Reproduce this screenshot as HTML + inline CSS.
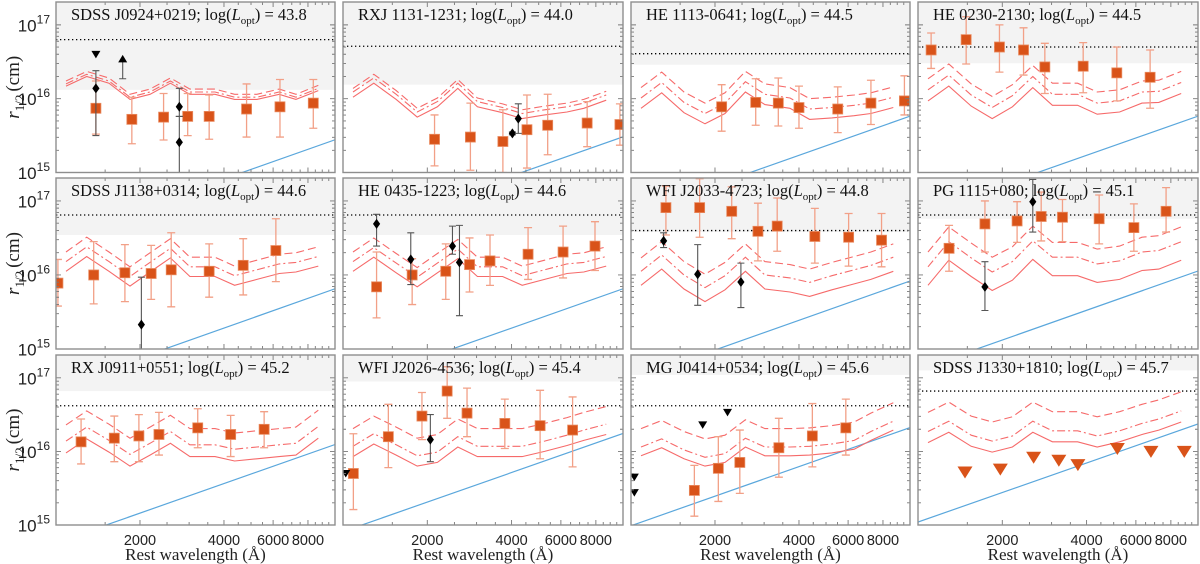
<!DOCTYPE html>
<html><head><meta charset="utf-8">
<style>
html,body{margin:0;padding:0;background:#fff;}
svg{display:block;font-family:"Liberation Serif",serif;}
</style></head>
<body>
<svg id="fig" xmlns="http://www.w3.org/2000/svg" width="1200" height="564" viewBox="0 0 1200 564"></svg>
<script>
// ---- data ----
const panelNames = ["SDSS J0924+0219","RXJ 1131-1231","HE 1113-0641","HE 0230-2130","SDSS J1138+0314","HE 0435-1223","WFI J2033-4723","PG 1115+080","RX J0911+0551","WFI J2026-4536","MG J0414+0534","SDSS J1330+1810"];
const panelLopt = ["43.8","44.0","44.5","44.5","44.6","44.6","44.8","45.1","45.2","45.4","45.6","45.7"];
const modelLam = [1086,1288,1549,1841,2173,2570,3020,3715,4365,5248,6310,7244,8710];
const solidR = [
 [16.17,16.30,16.21,15.99,16.06,16.21,16.06,16.06,15.99,15.99,16.06,15.99,16.11],
 [16.02,16.21,15.99,15.75,15.89,16.14,15.89,15.81,15.73,15.78,15.82,15.87,15.98],
 [15.87,16.08,15.81,15.66,15.80,16.09,15.92,15.87,15.72,15.74,15.77,15.80,15.88],
 [15.97,16.17,15.90,15.73,15.89,16.15,15.91,15.91,15.79,15.82,15.94,15.95,16.07],
 [16.05,16.25,16.05,15.85,16.04,16.23,15.98,15.98,15.86,15.94,16.02,16.04,16.12],
 [16.05,16.24,16.03,15.84,16.03,16.22,15.98,15.98,15.86,15.94,16.02,16.04,16.12],
 [15.86,16.08,15.81,15.64,15.80,16.05,15.81,15.77,15.71,15.80,15.88,15.94,16.05],
 [15.86,16.20,15.98,15.79,15.93,16.21,15.99,15.99,15.90,15.94,16.06,16.08,16.20],
 [15.98,16.17,15.99,15.80,15.95,16.11,15.93,15.93,15.87,15.90,15.93,15.95,16.18],
 [15.93,16.10,15.95,15.80,15.85,16.06,15.93,15.93,15.93,16.00,16.08,16.15,16.23],
 [15.94,16.05,15.90,15.80,15.85,16.06,15.94,15.94,15.95,15.98,16.03,16.15,16.29],
 [16.12,16.26,16.07,15.99,16.06,16.26,16.13,16.13,16.06,16.13,16.23,16.29,16.40]];
const dashDotOffset = [0.03,0.07,0.14,0.15,0.13,0.13,0.19,0.25,0.16,0.14,0.12,0.15];
const dashedOffset = [0.07,0.12,0.28,0.30,0.26,0.26,0.37,0.45,0.38,0.38,0.37,0.41];
const sqLam = [
 [1390,1870,2430,2965,3540,4820,6350,8360],
 [2123,2851,3724,4539,5383,7447,9750],
 [2113,2799,3373,4000,5508,7244,9550],
 [1114,1486,1954,2382,2838,3890,5129,6745],
 [1016,1365,1766,2193,2588,3540,4688,6138],
 [1318,1766,2328,2831,3350,4581,6109,7943],
 [1334,1762,2296,2851,3342,4560,6026,7907],
 [1291,1734,2259,2754,3281,4436,5902,7691],
 [1230,1618,1982,2339,3221,4227,5572],
 [1089,1452,1914,2355,2773,3784,5058,6607],
 [1687,2056,2455,3388,4467,5888],
 []];
const sqR = [
 [15.87,15.72,15.75,15.76,15.76,15.86,15.89,15.94],
 [15.45,15.48,15.42,15.58,15.64,15.67,15.65],
 [15.89,15.95,15.94,15.88,15.86,15.94,15.97],
 [16.66,16.80,16.70,16.66,16.43,16.44,16.35,16.29],
 [15.89,16.00,16.03,16.02,16.07,16.05,16.13,16.33],
 [15.84,16.00,16.05,16.14,16.19,16.28,16.31,16.39],
 [16.91,16.91,16.86,16.59,16.66,16.52,16.51,16.47],
 [16.36,16.69,16.73,16.79,16.78,16.76,16.64,16.86],
 [16.13,16.18,16.21,16.23,16.32,16.23,16.30],
 [15.70,16.20,16.48,16.82,16.52,16.38,16.35,16.29],
 [15.47,15.77,15.85,16.05,16.21,16.32],
 []];
const sqHi = [
 [16.24,16.02,16.07,16.07,16.05,16.20,16.26,16.26],
 [15.78,15.94,15.85,16.05,16.06,15.96,15.93],
 [16.19,16.27,16.28,16.17,16.16,16.25,16.31],
 [16.89,17.11,17.00,16.96,16.75,16.76,16.70,16.66],
 [16.21,16.45,16.41,16.40,16.57,16.42,16.49,16.76],
 [16.31,16.22,16.42,16.50,16.54,16.64,16.66,16.72],
 [17.20,17.30,17.19,16.97,17.04,16.90,16.83,16.83],
 [16.67,17.00,16.99,17.12,17.02,17.08,16.96,17.18],
 [16.44,16.48,16.50,16.53,16.58,16.49,16.54],
 [16.24,16.64,16.80,17.15,16.86,16.71,16.83,16.74],
 [15.81,16.20,16.29,16.45,16.65,16.71],
 []];
const sqLo = [
 [15.52,15.39,15.44,15.50,15.45,15.48,15.48,15.60],
 [15.09,15.03,15.00,15.06,15.24,15.35,15.37],
 [15.56,15.64,15.63,15.60,15.54,15.65,15.78],
 [16.41,16.47,16.36,16.32,16.07,16.08,15.97,15.87],
 [15.58,15.61,15.64,15.67,15.57,15.70,15.73,15.91],
 [15.42,15.60,15.67,15.77,15.86,15.94,15.96,16.06],
 [16.54,16.51,16.49,16.19,16.32,16.16,16.12,16.11],
 [16.05,16.31,16.44,16.46,16.45,16.42,16.32,16.58],
 [15.83,15.86,15.86,15.95,16.05,15.93,16.05],
 [15.21,15.78,16.16,16.45,16.20,16.04,15.90,15.79],
 [15.12,15.32,15.43,15.65,15.79,15.95],
 []];
const bkLam = [[1390,2767,2767],[4027,4227],[],[],[2023],[1318,1746,2460,2606],[1309,1734,2477],[1734,2570],[],[2051],[],[]];
const bkR = [[16.14,15.89,15.41],[15.53,15.73],[],[],[15.33],[16.69,16.21,16.39,16.17],[16.46,16.01,15.905],[15.84,16.99],[],[16.16],[],[]];
const bkHi = [[16.38,16.14,15.76],[15.55,15.93],[],[],[15.97],[16.82,16.57,16.66,16.67],[16.57,16.41,16.16],[16.18,17.29],[],[16.50],[],[]];
const bkLo = [[15.50,15.76,14.90],[15.51,15.53],[],[],[14.80],[16.39,15.87,16.28,15.45],[16.37,15.59,15.56],[15.52,16.58],[],[15.86],[],[]];
const triDownLam = [[1390],[],[],[],[],[],[],[],[],[1023],[1028,1028,1807,2218],[]];
const triDownR = [[16.60],[],[],[],[],[],[],[],[],[15.70],[15.65,15.44,16.36,16.53],[]];
const triUpLam = [[1734],[],[],[],[],[],[],[],[],[],[],[]];
const triUpR = [[16.54],[],[],[],[],[],[],[],[],[],[],[]];
const triUpLo = [[16.27],[],[],[],[],[],[],[],[],[],[],[]];
const limitLam = [1472,1968,2588,3184,3724,5152,6792,8933];
const limitR = [15.72,15.76,15.92,15.88,15.82,16.04,16.00,16.00];
const blueAt1000 = [14.11,14.15,14.43,14.43,14.48,14.48,14.585,14.72,14.76,14.91,14.99,15.04];
const dottedR = [16.80,16.71,16.61,16.70,16.81,16.81,16.60,16.81,16.62,16.62,16.62,16.82];
const greyBottom = [16.12,16.19,16.46,16.48,16.54,16.54,16.58,16.76,16.82,16.95,17.04,17.10];
const xTickLabels = [2000,4000,6000,8000];
const yTickLabels = [15,16,17];

// ---- geometry ----
const LEFT=[56,343,631,918], WID=[279,280,279,280];
const TOP=[2,178,355], BOT=[172.5,349,525];
const NS="http://www.w3.org/2000/svg";
const svg=document.getElementById('fig');
function X(p,lam){return LEFT[p%4]+(Math.log10(lam)-3)*WID[p%4];}
function Y(p,v){const r=Math.floor(p/4);return BOT[r]-(v-15)*(BOT[r]-TOP[r])/2.31;}
function mk(parent,tag,attrs){const e=document.createElementNS(NS,tag);for(const k in attrs)e.setAttribute(k,attrs[k]);parent.appendChild(e);return e;}
const defs=mk(svg,'defs',{});

for(let p=0;p<12;p++){
  const col=p%4,row=Math.floor(p/4);
  const l=LEFT[col],w=WID[col],t=TOP[row],b=BOT[row];
  const g=mk(svg,'g',{});
  
  
  const cp=mk(defs,'clipPath',{id:'cp'+p});
  mk(cp,'rect',{x:l,y:t,width:w,height:b-t});
  const pl=mk(g,'g',{'clip-path':'url(#cp'+p+')'});
  const band=mk(pl,'rect',{x:l,y:t,width:w,height:Math.max(0,Y(p,greyBottom[p])-t),fill:'#f3f3f3'});
  
  
  const dl=mk(pl,'line',{x1:l,x2:l+w,y1:Y(p,dottedR[p]),y2:Y(p,dottedR[p]),stroke:'#000','stroke-width':1.3,'stroke-dasharray':'1.3 2.7'});
  
  
  const bl=mk(pl,'line',{x1:X(p,1000),y1:Y(p,blueAt1000[p]),x2:X(p,10000),y2:Y(p,blueAt1000[p]+4/3),stroke:'#5aa7dc','stroke-width':1.2});
  
  
  const styles=[[0,'none','model-solid'],[dashDotOffset[p],'8 3 2 3','model-dashdot'],[dashedOffset[p],'8 4','model-dashed']];
  styles.forEach(s=>{
    const pts=modelLam.map((lam,i)=>X(p,lam).toFixed(1)+','+Y(p,solidR[p][i]+s[0]).toFixed(1)).join(' ');
    const pl2=mk(pl,'polyline',{points:pts,fill:'none',stroke:'#f66a6a','stroke-width':1.1,'stroke-dasharray':s[1]});
    
    
  });
  sqLam[p].forEach((lam,i)=>{
    const x=X(p,lam),y1=Y(p,sqHi[p][i]),y2=Y(p,sqLo[p][i]);
    const eb=mk(pl,'path',{d:`M${x},${y1}V${y2}M${x-4},${y1}H${x+4}M${x-4},${y2}H${x+4}`,stroke:'#f2a087','stroke-width':1.3,fill:'none'});
    
    
  });
  sqLam[p].forEach((lam,i)=>{
    const x=X(p,lam),y=Y(p,sqR[p][i]);
    const sq=mk(pl,'rect',{x:x-5,y:y-5,width:10,height:10,fill:'#d95319',stroke:'#e98a5f','stroke-width':0.8});
    
    
  });
  bkLam[p].forEach((lam,i)=>{
    const x=X(p,lam),y=Y(p,bkR[p][i]),y1=Y(p,bkHi[p][i]),y2=Y(p,bkLo[p][i]);
    const eb=mk(pl,'path',{d:`M${x},${y1}V${y2}M${x-3.5},${y1}H${x+3.5}M${x-3.5},${y2}H${x+3.5}`,stroke:'#555','stroke-width':1.1,fill:'none'});
    
    
    const d=mk(pl,'polygon',{points:`${x},${y-5} ${x+3.6},${y} ${x},${y+5} ${x-3.6},${y}`,fill:'#000'});
    
    
  });
  triDownLam[p].forEach((lam,i)=>{
    const x=X(p,lam),y=Y(p,triDownR[p][i]);
    const tr=mk(pl,'polygon',{points:`${x-4.5},${y-3.5} ${x+4.5},${y-3.5} ${x},${y+4}`,fill:'#000'});
    
    
  });
  triUpLam[p].forEach((lam,i)=>{
    const x=X(p,lam),y=Y(p,triUpR[p][i]),y2=Y(p,triUpLo[p][i]);
    const eb=mk(pl,'path',{d:`M${x},${y}V${y2}M${x-3.5},${y2}H${x+3.5}`,stroke:'#555','stroke-width':1.1});
    
    
    const tr=mk(pl,'polygon',{points:`${x-4.5},${y+3.5} ${x+4.5},${y+3.5} ${x},${y-4}`,fill:'#000'});
    
    
  });
  if(p===11){
    limitLam.forEach((lam,i)=>{
      const x=X(p,lam),y=Y(p,limitR[i]);
      const tr=mk(pl,'polygon',{points:`${x-7.5},${y-5.5} ${x+7.5},${y-5.5} ${x},${y+6.5}`,fill:'#d95319'});
      
      
    });
  }
  let td='';
  for(let lam=1500;lam<=9500;lam+=500){
    const x=X(p,lam),len=xTickLabels.includes(lam)?5:3;
    td+=`M${x},${b}V${b-len}M${x},${t}V${t+len}`;
  }
  for(let d=15;d<=17;d++){for(let m=1;m<=9;m++){const v=d+Math.log10(m);if(m===1&&d===15)continue;if(v>17.3)continue;const y=Y(p,v),len=m===1?5:3;td+=`M${l},${y}H${l+len}M${l+w},${y}H${l+w-len}`;}}
  const ticks=mk(g,'path',{d:td,stroke:'#777','stroke-width':0.9,fill:'none'});
  
  
  const fr=mk(g,'rect',{x:l,y:t,width:w,height:b-t,fill:'none',stroke:'#8e8e8e','stroke-width':1.4});
  
  
  const tt=mk(g,'text',{x:l+15,y:t+18,'font-size':16.5,fill:'#111'});
  
  
  tt.innerHTML=panelNames[p]+'; log(<tspan font-style="italic">L</tspan><tspan dy="4" font-size="11">opt</tspan><tspan dy="-4">) = '+panelLopt[p]+'</tspan>';
  if(col===0){
    yTickLabels.forEach(v=>{
      const yl=mk(svg,'text',{x:l-6,y:Y(p,v)+6.5,'text-anchor':'end','font-family':'Liberation Sans, sans-serif','font-size':17,fill:'#222'});
      
      
      yl.innerHTML='10<tspan dy="-8" font-size="12">'+v+'</tspan>';
    });
    const ya=mk(svg,'text',{transform:`translate(19,${(t+b)/2}) rotate(-90)`,'text-anchor':'middle','font-size':19,fill:'#222'});
    
    
    ya.innerHTML='<tspan font-style="italic">r</tspan><tspan dy="5" font-size="13">1/2</tspan><tspan dy="-5" dx="3">(cm)</tspan>';
  }
  if(row===2){
    xTickLabels.forEach(v=>{
      const xl=mk(svg,'text',{x:X(p,v),y:545,'text-anchor':'middle','font-family':'Liberation Sans, sans-serif','font-size':14.5,fill:'#222'});
      
      
      xl.textContent=v;
    });
    const xa=mk(svg,'text',{x:l+w/2,y:560,'text-anchor':'middle','font-size':17,fill:'#222'});
    
    
    xa.textContent='Rest wavelength (Å)';
  }
}
</script>
</body></html>
